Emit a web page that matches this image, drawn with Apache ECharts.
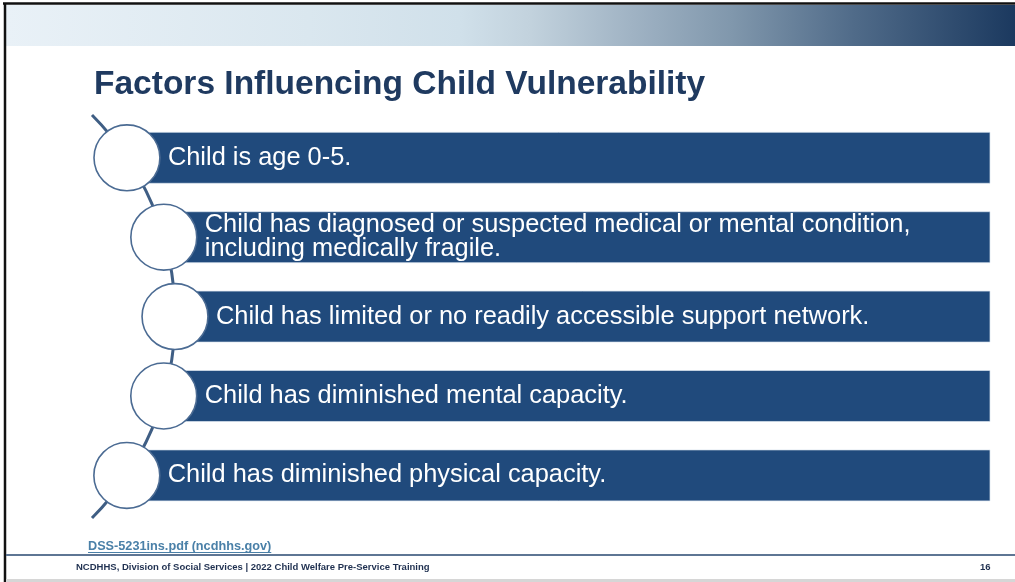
<!DOCTYPE html>
<html><head><meta charset="utf-8">
<script src="https://cdn.jsdelivr.net/npm/echarts@6/dist/echarts.min.js"></script>
<style>html,body{margin:0;padding:0;background:#fff}#c{width:1015px;height:582px}</style>
</head><body><div id="c"></div>
<script>
// ---- content ----
const titleText = 'Factors Influencing Child Vulnerability';
const factors = [
  'Child is age 0-5.',
  'Child has diagnosed or suspected medical or mental condition,\nincluding medically fragile.',
  'Child has limited or no readily accessible support network.',
  'Child has diminished mental capacity.',
  'Child has diminished physical capacity.'
];
const sourceLink = 'DSS-5231ins.pdf (ncdhhs.gov)';
const footerText = 'NCDHHS, Division of Social Services | 2022 Child Welfare Pre-Service Training';
const pageNumber = '16';

// ---- layout / style ----
const FONT = '"Liberation Sans", Arial, sans-serif';
const barColor = '#204A7C';
const arcColor = '#3F5E84';
const arcTopY = 115, arcBottomY = 518, arcEndX = 92, arcApexX = 175;
const arcCy = (arcTopY + arcBottomY) / 2;
const arcHalf = (arcBottomY - arcTopY) / 2;
const arcSag = arcApexX - arcEndX;
const arcR = (arcHalf * arcHalf + arcSag * arcSag) / (2 * arcSag);
const arcCx = arcApexX - arcR;
function arcX(y) { const dy = y - arcCy; return arcCx + Math.sqrt(arcR * arcR - dy * dy); }

function measure(text, font) {
  const c = document.createElement('canvas').getContext('2d');
  c.font = font; return c.measureText(text).width;
}

const chart = echarts.init(document.getElementById('c'), null, {renderer: 'canvas'});
const linkFont = 'bold 12.7px ' + FONT;
const linkW = measure(sourceLink, linkFont);
const arcAng = Math.asin(arcHalf / arcR);

chart.setOption({
  animation: false,
  backgroundColor: '#ffffff',
  title: {
    text: titleText, left: 89, top: 62.5,
    textStyle: {fontFamily: FONT, fontSize: 33.5, fontWeight: 'bold', color: '#1F3A60'}
  },
  grid: {left: 0, right: 25, top: 118.1, bottom: 66.9},
  xAxis: {type: 'value', min: 0, max: 100, show: false},
  yAxis: {type: 'category', data: factors, inverse: true, show: false},
  graphic: [
    {type: 'rect', z: 0, shape: {x: 6, y: 5, width: 1009, height: 41}, style: {fill: new echarts.graphic.LinearGradient(0, 0, 1, 0, [
      {offset: 0, color: '#E9F1F7'}, {offset: 0.3, color: '#DAE7EF'}, {offset: 0.45, color: '#D0E0EA'},
      {offset: 0.52, color: '#C2D2DD'}, {offset: 0.62, color: '#A0B3C4'}, {offset: 0.72, color: '#8097AC'},
      {offset: 0.84, color: '#506B89'}, {offset: 1, color: '#1B395F'}])}},
    {type: 'line', shape: {x1: 3, y1: 3.5, x2: 1015, y2: 3.5}, style: {stroke: '#111', lineWidth: 2.5}},
    {type: 'line', shape: {x1: 5, y1: 3, x2: 5, y2: 582}, style: {stroke: '#111', lineWidth: 2.5}},
    {type: 'text', style: {text: sourceLink, x: 88, y: 546.3, font: linkFont, fill: '#4A80A8', verticalAlign: 'middle'}},
    {type: 'line', shape: {x1: 88, y1: 552.5, x2: 88 + linkW, y2: 552.5}, style: {stroke: '#4A80A8', lineWidth: 1}},
    {type: 'line', shape: {x1: 6, y1: 555, x2: 1015, y2: 555}, style: {stroke: '#5E7694', lineWidth: 2}},
    {type: 'text', style: {text: footerText, x: 76, y: 567.8, font: 'bold 9.5px ' + FONT, fill: '#1F3050', verticalAlign: 'middle'}},
    {type: 'text', style: {text: pageNumber, x: 980, y: 567.8, font: 'bold 9.5px ' + FONT, fill: '#1F3050', verticalAlign: 'middle'}},
    {type: 'rect', shape: {x: 6, y: 579, width: 1009, height: 3}, style: {fill: '#D6D6D6'}}
  ],
  series: [
    {
      type: 'custom', z: 1, clip: false,
      data: [[0, 0]],
      renderItem: function () {
        return {type: 'arc', shape: {cx: arcCx, cy: arcCy, r: arcR, startAngle: -arcAng, endAngle: arcAng, clockwise: true},
          style: {fill: 'none', stroke: arcColor, lineWidth: 3}};
      }
    },
    {
      type: 'custom', z: 2, clip: false,
      data: factors.map((t, i) => [100, i]),
      encode: {x: 0, y: 1},
      renderItem: function (params, api) {
        const i = api.value(1);
        const end = api.coord([api.value(0), i]);
        const band = api.size([0, 1])[1];
        const yc = end[1];
        const barH = band * 0.642;
        const r = band * 0.415;
        const cx = arcX(yc);
        return {type: 'group', children: [
          {type: 'rect', shape: {x: cx, y: yc - barH / 2, width: end[0] - cx, height: barH},
            style: {fill: barColor, stroke: 'rgba(220,230,240,0.7)', lineWidth: 1}},
          {type: 'text', style: {text: factors[i], x: cx + r + 8, y: yc, fill: '#FFFFFF',
            font: '25.4px ' + FONT, verticalAlign: 'middle', lineHeight: 24.5}},
          {type: 'circle', shape: {cx: cx, cy: yc, r: r},
            style: {fill: '#FFFFFF', stroke: '#4B6B93', lineWidth: 1.6}}
        ]};
      }
    }
  ]
});
</script></body></html>
